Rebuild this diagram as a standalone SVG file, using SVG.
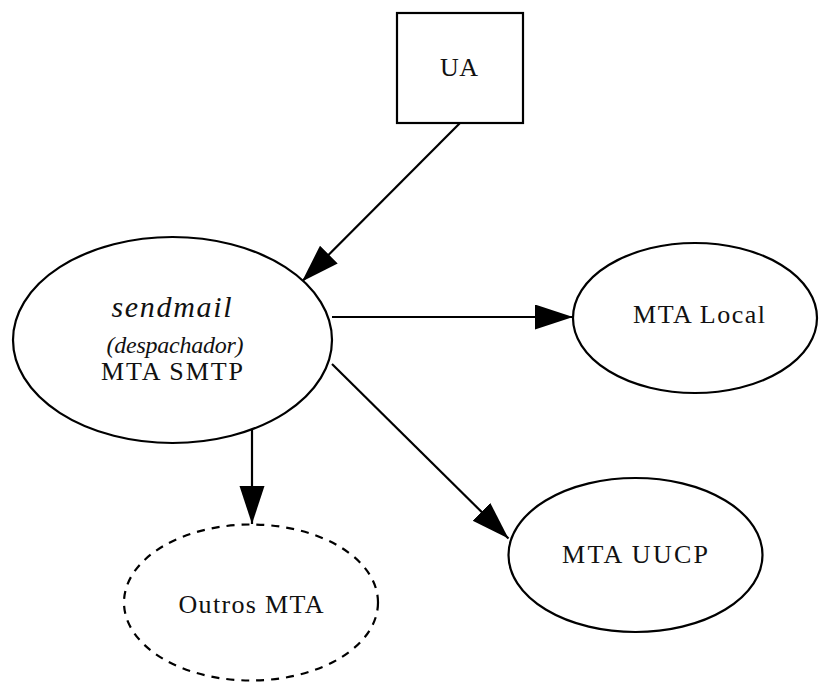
<svg xmlns="http://www.w3.org/2000/svg" width="819" height="682" viewBox="0 0 819 682">
  <style>
    .shape { fill: #ffffff; stroke: #000000; stroke-width: 2.2; }
    .dashed { stroke-dasharray: 8 7; }
    .edge { fill: none; stroke: #000000; stroke-width: 2.2; }
    .label { font-family: "Liberation Serif", "Times New Roman", serif; font-size: 26px; fill: #111111; text-anchor: middle; }
    .it { font-style: italic; }
    .big { font-size: 30px; }
    .small { font-size: 24px; }
  </style>
  <defs>
    <marker id="arrow" markerUnits="userSpaceOnUse" markerWidth="40" markerHeight="26" refX="38" refY="12.5" orient="auto">
      <path d="M0,0 L38,12.5 L0,25 Z" fill="#000000"/>
    </marker>
  </defs>

  <g id="connectors">
    <path class="edge" d="M460,123 L302,281.5" marker-end="url(#arrow)"/>
    <path class="edge" d="M332,317 L573,317" marker-end="url(#arrow)"/>
    <path class="edge" d="M252,430 L252,524" marker-end="url(#arrow)"/>
    <path class="edge" d="M332,364 L508.5,538.5" marker-end="url(#arrow)"/>
  </g>

  <g id="ua">
    <rect class="shape" x="397" y="13" width="126" height="110"/>
    <text class="label" x="459" y="76" textLength="38" lengthAdjust="spacing">UA</text>
  </g>

  <g id="sendmail">
    <ellipse class="shape" cx="172.5" cy="340" rx="159.5" ry="103"/>
    <text class="label it big" x="171.5" y="317" textLength="120" lengthAdjust="spacing">sendmail</text>
    <text class="label it small" x="175" y="352.5" textLength="137" lengthAdjust="spacing">(despachador)</text>
    <text class="label" x="172" y="380" textLength="142" lengthAdjust="spacing">MTA SMTP</text>
  </g>

  <g id="mta-local">
    <ellipse class="shape" cx="695" cy="318" rx="122" ry="75"/>
    <text class="label" x="699" y="323" textLength="132" lengthAdjust="spacing">MTA Local</text>
  </g>

  <g id="mta-uucp">
    <ellipse class="shape" cx="635.5" cy="555" rx="127" ry="77"/>
    <text class="label" x="635" y="563" textLength="146" lengthAdjust="spacing">MTA UUCP</text>
  </g>

  <g id="outros-mta">
    <ellipse class="shape dashed" cx="251" cy="602.5" rx="127" ry="78"/>
    <text class="label" x="251" y="612.5" textLength="145" lengthAdjust="spacing">Outros MTA</text>
  </g>
</svg>
